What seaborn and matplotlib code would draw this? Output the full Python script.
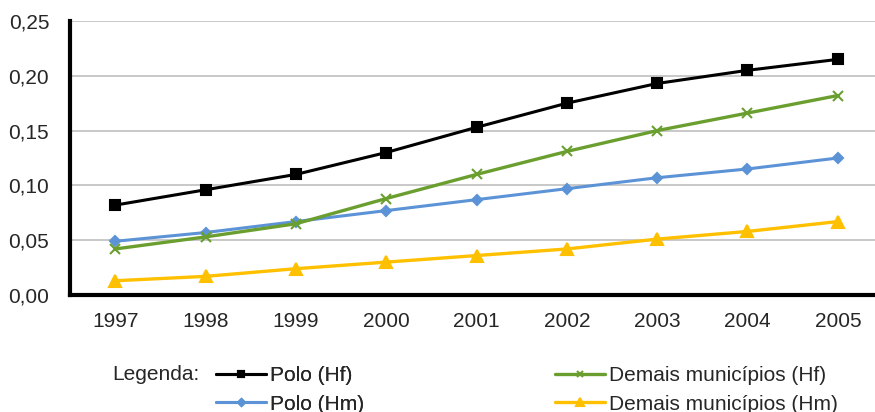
import matplotlib
matplotlib.use("Agg")
import matplotlib.pyplot as plt
import seaborn as sns
from matplotlib.ticker import FuncFormatter, FixedLocator

anos = ["1997", "1998", "1999", "2000", "2001", "2002", "2003", "2004", "2005"]
polo_hf = [0.082, 0.096, 0.110, 0.130, 0.153, 0.175, 0.193, 0.205, 0.215]
polo_hm = [0.049, 0.057, 0.067, 0.077, 0.087, 0.097, 0.107, 0.115, 0.125]
demais_hf = [0.042, 0.053, 0.065, 0.088, 0.110, 0.131, 0.150, 0.166, 0.182]
demais_hm = [0.013, 0.017, 0.024, 0.030, 0.036, 0.042, 0.051, 0.058, 0.067]

sns.set_style("white")
plt.rcParams["font.family"] = ["Liberation Sans", "DejaVu Sans"]
fs = 15

fig = plt.figure(figsize=(8.75, 4.12), dpi=100)
# the right end of the x axis runs past the edge of the picture, as in the original
ax = fig.add_axes([70 / 875, 1 - 295 / 412, (883 - 70) / 875, (295 - 21) / 412])

x = list(range(len(anos)))
series = [
    ("Polo (Hf)", polo_hf, "black", "s", 7, 2.2),
    ("Polo (Hm)", polo_hm, "#5B93D6", "D", 5.5, 2.2),
    ("Demais municípios (Hf)", demais_hf, "#6A9F30", "x", 7, 2.4),
    ("Demais municípios (Hm)", demais_hm, "#FFC000", "^", 8, 2.4),
]
for nome, vals, cor, mk, ms, lw in series:
    sns.lineplot(x=x, y=vals, ax=ax, color=cor, marker=mk, markersize=ms,
                 markeredgecolor=cor, markeredgewidth=1.5, linewidth=lw,
                 label=nome, legend=False, zorder=3)
handles = ax.get_lines()

ax.set_xlim(-0.5, len(anos) - 0.5)
ax.set_ylim(0, 0.25)
ax.set_yticks([0, 0.05, 0.10, 0.15, 0.20, 0.25])
ax.yaxis.set_major_formatter(FuncFormatter(lambda v, p: f"{v:.2f}".replace(".", ",")))
ax.set_xticks(x)
ax.set_xticklabels(anos)
ax.xaxis.set_minor_locator(FixedLocator([i - 0.5 for i in range(len(anos) + 1)]))
ax.tick_params(axis="x", which="major", length=0, pad=12, labelsize=fs)
ax.tick_params(axis="x", which="minor", length=5, width=2.5, color="black", direction="out")
ax.tick_params(axis="y", length=6, width=2.5, color="black", direction="out", pad=9, labelsize=fs)
ax.grid(axis="y", color="#BFBFBF", linewidth=1.2)
ax.set_axisbelow(True)
ax.spines["top"].set_visible(False)
ax.spines["right"].set_visible(False)
for s in ["left", "bottom"]:
    ax.spines[s].set_color("black")
    ax.spines[s].set_linewidth(3)

fig.text(112 / 875, 1 - 374 / 412, "Legenda:", fontsize=fs, va="center", ha="left")
kw = dict(frameon=False, fontsize=fs, handlelength=2.4, handletextpad=0.2,
          labelspacing=0.45, markerscale=0.65, loc="center left",
          borderpad=0, borderaxespad=0)
leg1 = fig.legend(handles=handles[:2], labels=[s[0] for s in series[:2]],
                  bbox_to_anchor=(216 / 875, 1 - 390 / 412), **kw)
fig.add_artist(leg1)
leg2 = fig.legend(handles=handles[2:], labels=[s[0] for s in series[2:]],
                  bbox_to_anchor=(555 / 875, 1 - 390 / 412), **kw)

fig.savefig("out.png", dpi=100)
